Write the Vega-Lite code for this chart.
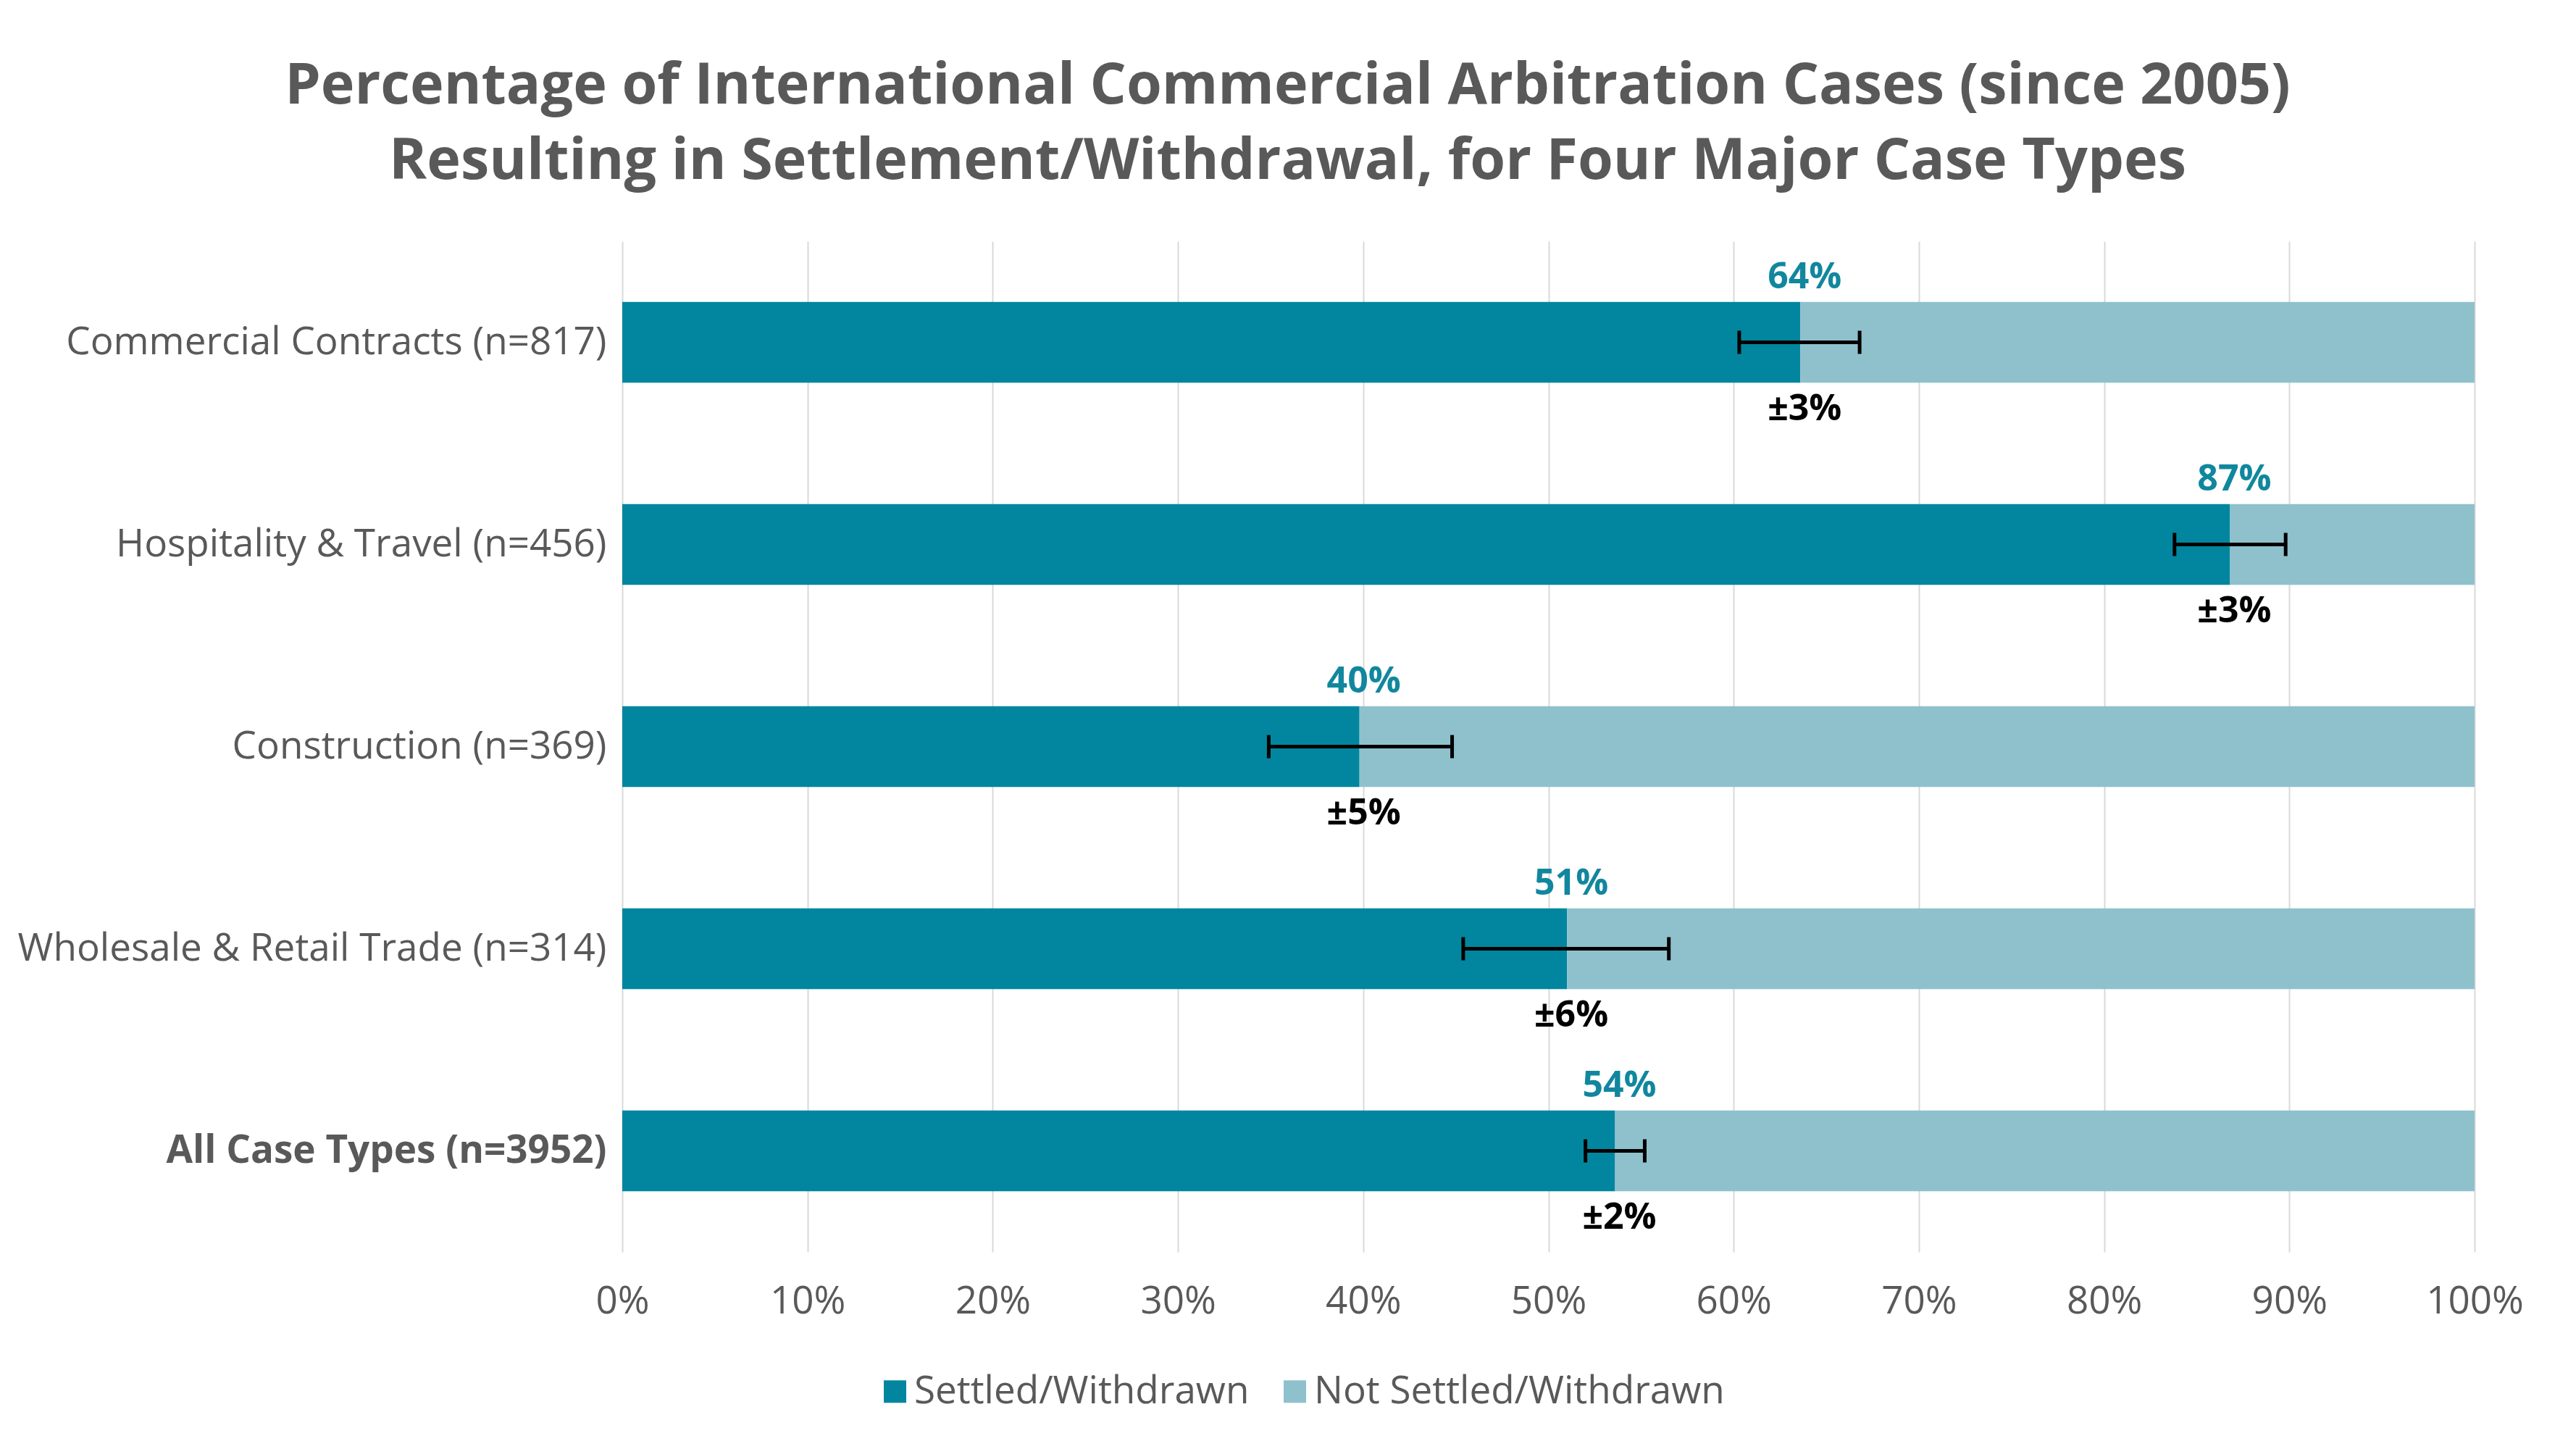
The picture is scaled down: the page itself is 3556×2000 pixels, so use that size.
{
  "$schema": "https://vega.github.io/schema/vega-lite/v6.json",
  "autosize": {"type": "none"},
  "width": 2557,
  "height": 1395,
  "padding": {"left": 859, "top": 333, "right": 140, "bottom": 272},
  "background": "white",
  "config": {
    "font": "Open Sans",
    "view": {"stroke": null}
  },
  "title": {
    "text": ["Percentage of International Commercial Arbitration Cases (since 2005)", "Resulting in Settlement/Withdrawal, for Four Major Case Types"],
    "fontSize": 79,
    "fontWeight": "bold",
    "color": "#595959",
    "font": "Open Sans",
    "anchor": "middle",
    "frame": "group",
    "dx": -360,
    "baseline": "bottom",
    "lineHeight": 104,
    "offset": -10
  },
  "datasets": {
    "bars": [
      {"cat": "Commercial Contracts (n=817)", "status": "Settled/Withdrawn", "pct": 63.6, "ord": 1},
      {"cat": "Commercial Contracts (n=817)", "status": "Not Settled/Withdrawn", "pct": 36.4, "ord": 2},
      {"cat": "Hospitality & Travel (n=456)", "status": "Settled/Withdrawn", "pct": 86.8, "ord": 1},
      {"cat": "Hospitality & Travel (n=456)", "status": "Not Settled/Withdrawn", "pct": 13.2, "ord": 2},
      {"cat": "Construction (n=369)", "status": "Settled/Withdrawn", "pct": 39.8, "ord": 1},
      {"cat": "Construction (n=369)", "status": "Not Settled/Withdrawn", "pct": 60.2, "ord": 2},
      {"cat": "Wholesale & Retail Trade (n=314)", "status": "Settled/Withdrawn", "pct": 51.0, "ord": 1},
      {"cat": "Wholesale & Retail Trade (n=314)", "status": "Not Settled/Withdrawn", "pct": 49.0, "ord": 2},
      {"cat": "All Case Types (n=3952)", "status": "Settled/Withdrawn", "pct": 53.6, "ord": 1},
      {"cat": "All Case Types (n=3952)", "status": "Not Settled/Withdrawn", "pct": 46.4, "ord": 2}
    ],
    "errs": [
      {"cat": "Commercial Contracts (n=817)", "val": 63.6, "lo": 60.3, "hi": 66.8, "lab": "64%", "err": "±3%"},
      {"cat": "Hospitality & Travel (n=456)", "val": 86.8, "lo": 83.8, "hi": 89.8, "lab": "87%", "err": "±3%"},
      {"cat": "Construction (n=369)", "val": 39.8, "lo": 34.9, "hi": 44.8, "lab": "40%", "err": "±5%"},
      {"cat": "Wholesale & Retail Trade (n=314)", "val": 51.0, "lo": 45.4, "hi": 56.5, "lab": "51%", "err": "±6%"},
      {"cat": "All Case Types (n=3952)", "val": 53.6, "lo": 52.0, "hi": 55.2, "lab": "54%", "err": "±2%"}
    ]
  },
  "encoding": {
    "y": {
      "field": "cat",
      "type": "nominal",
      "sort": ["Commercial Contracts (n=817)", "Hospitality & Travel (n=456)", "Construction (n=369)", "Wholesale & Retail Trade (n=314)", "All Case Types (n=3952)"],
      "scale": {"paddingInner": 0.6, "paddingOuter": 0.3},
      "axis": {
        "title": null,
        "domain": false,
        "ticks": false,
        "tickSize": 0,
        "labelFontSize": 53,
        "labelColor": "#595959",
        "labelPadding": 22,
        "labelLimit": 1000,
        "labelFontWeight": {"condition": {"test": "datum.value == 'All Case Types (n=3952)'", "value": "bold"}, "value": "normal"}
      }
    }
  },
  "layer": [
    {
      "data": {"name": "bars"},
      "mark": {"type": "bar"},
      "encoding": {
        "x": {
          "field": "pct",
          "type": "quantitative",
          "stack": "zero",
          "scale": {"domain": [0, 100], "nice": false},
          "axis": {
            "title": null,
            "values": [0, 10, 20, 30, 40, 50, 60, 70, 80, 90, 100],
            "labelExpr": "datum.value + '%'",
            "grid": true,
            "gridColor": "#d9d9d9",
            "gridWidth": 2,
            "domain": false,
            "ticks": false,
            "tickSize": 0,
            "labelFontSize": 53,
            "labelColor": "#595959",
            "labelPadding": 42,
            "labelFlush": false
          }
        },
        "color": {
          "field": "status",
          "type": "nominal",
          "scale": {"domain": ["Settled/Withdrawn", "Not Settled/Withdrawn"], "range": ["#02869F", "#8FC1CD"]},
          "legend": {
            "title": null,
            "orient": "none",
            "direction": "horizontal",
            "legendX": 350,
            "legendY": 1561,
            "padding": 0,
            "symbolType": "square",
            "symbolSize": 961,
            "symbolStrokeWidth": 0,
            "symbolOpacity": 1,
            "labelFontSize": 53,
            "labelColor": "#595959",
            "labelOffset": 0,
            "columnPadding": 36,
            "labelLimit": 1000
          }
        },
        "order": {"field": "ord", "type": "quantitative"}
      }
    },
    {
      "data": {"name": "errs"},
      "mark": {"type": "rule", "color": "black", "strokeWidth": 5},
      "encoding": {
        "x": {"field": "lo", "type": "quantitative"},
        "x2": {"field": "hi"}
      }
    },
    {
      "data": {"name": "errs"},
      "mark": {"type": "tick", "color": "black", "thickness": 5, "size": 32, "opacity": 1},
      "encoding": {
        "x": {"field": "lo", "type": "quantitative"}
      }
    },
    {
      "data": {"name": "errs"},
      "mark": {"type": "tick", "color": "black", "thickness": 5, "size": 32, "opacity": 1},
      "encoding": {
        "x": {"field": "hi", "type": "quantitative"}
      }
    },
    {
      "data": {"name": "errs"},
      "mark": {"type": "text", "color": "#11879E", "fontSize": 50, "fontWeight": "bold", "align": "center", "baseline": "middle", "dy": -90, "dx": 6},
      "encoding": {
        "x": {"field": "val", "type": "quantitative"},
        "text": {"field": "lab"}
      }
    },
    {
      "data": {"name": "errs"},
      "mark": {"type": "text", "color": "black", "fontSize": 50, "fontWeight": "bold", "align": "center", "baseline": "middle", "dy": 92, "dx": 6},
      "encoding": {
        "x": {"field": "val", "type": "quantitative"},
        "text": {"field": "err"}
      }
    }
  ]
}
